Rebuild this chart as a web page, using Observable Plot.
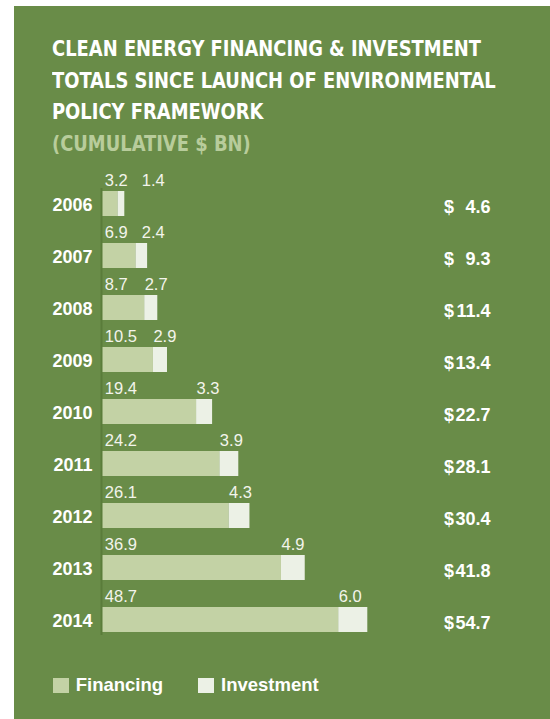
<!DOCTYPE html>
<html>
<head>
<meta charset="utf-8">
<script src="https://cdn.jsdelivr.net/npm/d3@7"></script>
<script src="https://cdn.jsdelivr.net/npm/@observablehq/plot@0.6"></script>
<style>
  html, body { margin: 0; padding: 0; background: #ffffff; }
  #panel { position: absolute; left: 14px; top: 6px; width: 536px; height: 713px; background: #698c48; overflow: hidden; }
  #title { position: absolute; left: 37.7px; top: 27px; font-family: "DejaVu Sans Condensed", "Liberation Sans Narrow", sans-serif; font-weight: bold; font-size: 22px; line-height: 31.7px; color: #ffffff; white-space: nowrap; transform: scaleX(0.905); transform-origin: 0 0; }
  #title .sub { color: #b8cc9b; }
  #chart { position: absolute; left: 0; top: 150px; }
  #legend { position: absolute; left: 38.7px; top: 668px; font-family: "Liberation Sans", Arial, sans-serif; font-weight: bold; font-size: 18.5px; color: #ffffff; display: flex; align-items: center; }
  .item { display: flex; align-items: center; margin-right: 35px; }
  .sw { width: 16px; height: 15px; margin-right: 7px; }
</style>
</head>
<body>
<div id="panel">
  <div id="title">CLEAN ENERGY FINANCING &amp; INVESTMENT<br>TOTALS SINCE LAUNCH OF ENVIRONMENTAL<br>POLICY FRAMEWORK<br><span class="sub">(CUMULATIVE $ BN)</span></div>
  <div id="chart"></div>
  <div id="legend"></div>
</div>
<script>
const years = ["2006", "2007", "2008", "2009", "2010", "2011", "2012", "2013", "2014"];
const financing = [3.2, 6.9, 8.7, 10.5, 19.4, 24.2, 26.1, 36.9, 48.7];
const investment = [1.4, 2.4, 2.7, 2.9, 3.3, 3.9, 4.3, 4.9, 6.0];
const totals = [4.6, 9.3, 11.4, 13.4, 22.7, 28.1, 30.4, 41.8, 54.7];
const seriesNames = ["Financing", "Investment"];
const seriesColors = ["#c3d2a5", "#ecf1e6"];

const long = [];
years.forEach((y, i) => {
  long.push({year: y, type: "Financing", value: financing[i]});
  long.push({year: y, type: "Investment", value: investment[i]});
});
const rows = years.map((y, i) => ({year: y, fin: financing[i], inv: investment[i], total: totals[i]}));

const plot = Plot.plot({
  width: 536,
  height: 489,
  marginLeft: 88,
  marginRight: 60,
  marginTop: 32,
  marginBottom: 10,
  style: {background: "transparent", fontFamily: "'Liberation Sans', Arial, sans-serif", overflow: "visible"},
  x: {domain: [0, 80], axis: null},
  y: {domain: years, paddingInner: 0.525, paddingOuter: 0.06, align: 0.5, label: null},
  color: {domain: seriesNames, range: seriesColors},
  marks: [
    Plot.barX(long, {y: "year", x: "value", fill: "type", order: seriesNames, inset: 0}),
    Plot.ruleX([0], {stroke: "#5a7c3a", strokeWidth: 2, dx: -1}),
    Plot.axisY({tickSize: 0, tickPadding: 10, fontSize: 18, fontWeight: "bold", fill: "#ffffff", label: null, dy: 1}),
    Plot.text(rows, {y: "year", x: 0, text: d => d.fin.toFixed(1), textAnchor: "start", dx: 2.3, dy: -23.5, fontSize: 16.5, fill: "#f3f4ec"}),
    Plot.text(rows, {y: "year", x: d => Math.max(d.fin, 8.1), text: d => d.inv.toFixed(1), textAnchor: "start", dy: -23.5, fontSize: 16.5, fill: "#f3f4ec"}),
    Plot.text(rows, {y: "year", frameAnchor: "right", text: d => d.total.toFixed(1), textAnchor: "end", dy: 3, fontSize: 18, fontWeight: "bold", fill: "#ffffff"}),
    Plot.text(rows, {y: "year", frameAnchor: "right", text: () => "$", textAnchor: "start", dx: -46.4, dy: 3, fontSize: 18, fontWeight: "bold", fill: "#ffffff"})
  ]
});
document.getElementById("chart").appendChild(plot);

const legend = document.getElementById("legend");
seriesNames.forEach((name, i) => {
  const item = document.createElement("div");
  item.className = "item";
  const sw = document.createElement("div");
  sw.className = "sw";
  sw.style.background = seriesColors[i];
  const label = document.createElement("span");
  label.textContent = name;
  item.appendChild(sw);
  item.appendChild(label);
  legend.appendChild(item);
});
</script>
</body>
</html>
